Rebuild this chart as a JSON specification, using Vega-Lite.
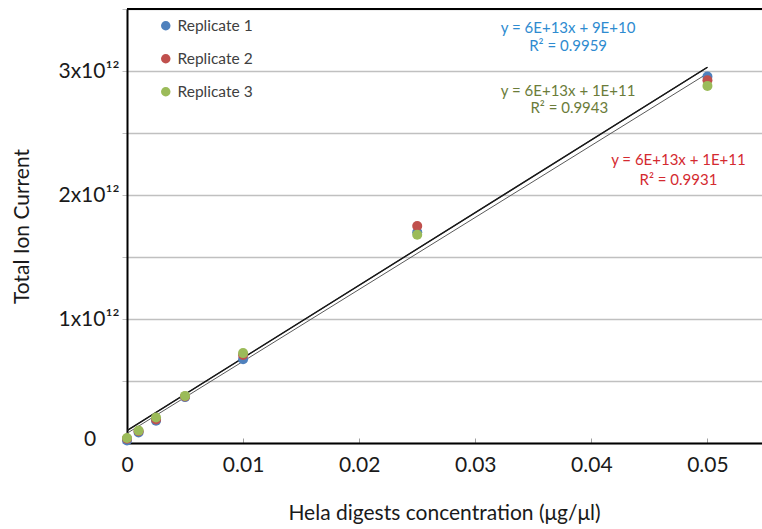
{
  "$schema": "https://vega.github.io/schema/vega-lite/v6.json",
  "width": 635,
  "height": 434,
  "autosize": {"type": "none"},
  "padding": {"left": 127, "top": 9, "right": 0, "bottom": 86},
  "background": "white",
  "config": {
    "view": {"stroke": null},
    "font": "Lato",
    "legend": {
      "orient": "none",
      "legendX": 31,
      "legendY": 9,
      "title": null,
      "symbolType": "circle",
      "symbolSize": 90,
      "symbolStrokeWidth": 0,
      "labelFontSize": 15.5,
      "labelFont": "Lato",
      "labelColor": "#404040",
      "rowPadding": 16,
      "labelOffset": 4
    }
  },
  "datasets": {
    "measurements": [
      {"replicate": "Replicate 1", "conc": 0, "tic": 2.0e10},
      {"replicate": "Replicate 1", "conc": 0.001, "tic": 8.5e10},
      {"replicate": "Replicate 1", "conc": 0.0025, "tic": 1.8e11},
      {"replicate": "Replicate 1", "conc": 0.005, "tic": 3.7e11},
      {"replicate": "Replicate 1", "conc": 0.01, "tic": 6.75e11},
      {"replicate": "Replicate 1", "conc": 0.025, "tic": 1.70e12},
      {"replicate": "Replicate 1", "conc": 0.05, "tic": 2.955e12},
      {"replicate": "Replicate 2", "conc": 0, "tic": 3.5e10},
      {"replicate": "Replicate 2", "conc": 0.001, "tic": 9.5e10},
      {"replicate": "Replicate 2", "conc": 0.0025, "tic": 1.9e11},
      {"replicate": "Replicate 2", "conc": 0.005, "tic": 3.75e11},
      {"replicate": "Replicate 2", "conc": 0.01, "tic": 7.1e11},
      {"replicate": "Replicate 2", "conc": 0.025, "tic": 1.75e12},
      {"replicate": "Replicate 2", "conc": 0.05, "tic": 2.925e12},
      {"replicate": "Replicate 3", "conc": 0, "tic": 4.0e10},
      {"replicate": "Replicate 3", "conc": 0.001, "tic": 1.0e11},
      {"replicate": "Replicate 3", "conc": 0.0025, "tic": 2.05e11},
      {"replicate": "Replicate 3", "conc": 0.005, "tic": 3.8e11},
      {"replicate": "Replicate 3", "conc": 0.01, "tic": 7.25e11},
      {"replicate": "Replicate 3", "conc": 0.025, "tic": 1.68e12},
      {"replicate": "Replicate 3", "conc": 0.05, "tic": 2.88e12}
    ],
    "fits": [
      {"fit": "Replicate 1", "conc": 0, "tic": 7.8e10},
      {"fit": "Replicate 1", "conc": 0.05, "tic": 2.98e12},
      {"fit": "Replicate 2", "conc": 0, "tic": 1.0e11},
      {"fit": "Replicate 2", "conc": 0.05, "tic": 3.03e12},
      {"fit": "Replicate 3", "conc": 0, "tic": 1.0e11},
      {"fit": "Replicate 3", "conc": 0.05, "tic": 3.03e12}
    ],
    "equations": [
      {"series": "Replicate 1", "line": "y = 6E+13x + 9E+10", "conc": 0.0380, "tic": 3.347e12},
      {"series": "Replicate 1", "line": "R² = 0.9959", "conc": 0.0380, "tic": 3.20e12},
      {"series": "Replicate 3", "line": "y = 6E+13x + 1E+11", "conc": 0.0380, "tic": 2.839e12},
      {"series": "Replicate 3", "line": "R² = 0.9943", "conc": 0.0381, "tic": 2.70e12},
      {"series": "Replicate 2", "line": "y = 6E+13x + 1E+11", "conc": 0.0475, "tic": 2.282e12},
      {"series": "Replicate 2", "line": "R² = 0.9931", "conc": 0.0475, "tic": 2.121e12}
    ]
  },
  "layer": [
    {
      "data": {"name": "fits"},
      "mark": {"type": "line", "clip": true},
      "encoding": {
        "x": {
          "field": "conc",
          "type": "quantitative",
          "scale": {"domain": [0, 0.0547], "nice": false, "zero": false},
          "axis": {
            "values": [0, 0.01, 0.02, 0.03, 0.04, 0.05],
            "labelExpr": "datum.value == 0 ? '0' : format(datum.value, '.2f')",
            "grid": false,
            "domainColor": "#000000",
            "domainWidth": 2,
            "tickColor": "#a0a0a0",
            "tickSize": -5,
            "labelFontSize": 21,
            "labelColor": "#1a1a1a",
            "labelPadding": 16,
            "labelFlush": false,
            "title": "Hela digests concentration (μg/μl)",
            "titleFontSize": 21,
            "titleFontWeight": "normal",
            "titleColor": "#1a1a1a",
            "titleX": 317,
            "titleY": 70,
            "titleBaseline": "middle",
            "titleAlign": "center"
          }
        },
        "y": {
          "field": "tic",
          "type": "quantitative",
          "scale": {"domain": [0, 3.5e12], "nice": false},
          "axis": {
            "values": [0, 5e11, 1e12, 1.5e12, 2e12, 2.5e12, 3e12, 3.5e12],
            "labelExpr": "datum.value > 0 && datum.value % 1e12 == 0 ? format(datum.value / 1e12, 'd') + 'x10¹²' : ''",
            "grid": true,
            "gridColor": "#c0c0c0",
            "gridWidth": 1.5,
            "domainColor": "#000000",
            "domainWidth": 2,
            "tickColor": "#c0c0c0",
            "tickSize": 5,
            "labelFontSize": 21,
            "labelColor": "#1a1a1a",
            "labelPadding": 3,
            "labelFlush": false,
            "title": "Total Ion Current",
            "titleFontSize": 21,
            "titleFontWeight": "normal",
            "titleColor": "#1a1a1a",
            "titleX": -105,
            "titleY": 217,
            "titleAngle": -90,
            "titleBaseline": "middle",
            "titleAlign": "center"
          }
        },
        "detail": {"field": "fit"},
        "color": {
          "field": "fit",
          "type": "nominal",
          "scale": {"domain": ["Replicate 1", "Replicate 2", "Replicate 3"], "range": ["#5a5a5a", "#1a1a1a", "#1a1a1a"]},
          "legend": null
        },
        "strokeWidth": {
          "field": "fit",
          "type": "nominal",
          "scale": {"domain": ["Replicate 1", "Replicate 2", "Replicate 3"], "range": [1, 1.3, 1.3]},
          "legend": null
        }
      }
    },
    {
      "data": {"values": [{}]},
      "mark": {"type": "rule", "color": "#000000", "strokeWidth": 2},
      "encoding": {
        "y": {"datum": 3.5e12, "type": "quantitative"}
      }
    },
    {
      "data": {"values": [{}]},
      "mark": {"type": "text", "text": "0", "fontSize": 21, "font": "Lato", "color": "#1a1a1a", "align": "center", "baseline": "middle", "dx": -37, "dy": -3},
      "encoding": {
        "x": {"datum": 0, "type": "quantitative"},
        "y": {"datum": 0, "type": "quantitative"}
      }
    },
    {
      "data": {"name": "measurements"},
      "mark": {"type": "circle", "size": 100, "opacity": 1},
      "encoding": {
        "x": {"field": "conc", "type": "quantitative"},
        "y": {"field": "tic", "type": "quantitative"},
        "color": {
          "field": "replicate",
          "type": "nominal",
          "scale": {"domain": ["Replicate 1", "Replicate 2", "Replicate 3"], "range": ["#4f81bd", "#c0504d", "#9bbb59"]}
        },
        "order": {"field": "replicate"}
      }
    },
    {
      "data": {"name": "equations"},
      "mark": {"type": "text", "fontSize": 15, "font": "Lato", "align": "center", "baseline": "middle"},
      "encoding": {
        "x": {"field": "conc", "type": "quantitative"},
        "y": {"field": "tic", "type": "quantitative"},
        "text": {"field": "line"},
        "color": {
          "field": "series",
          "type": "nominal",
          "scale": {"domain": ["Replicate 1", "Replicate 2", "Replicate 3"], "range": ["#2e8bd0", "#d42a30", "#6b7c3a"]},
          "legend": null
        }
      }
    }
  ],
  "resolve": {"scale": {"color": "independent", "strokeWidth": "independent"}}
}
